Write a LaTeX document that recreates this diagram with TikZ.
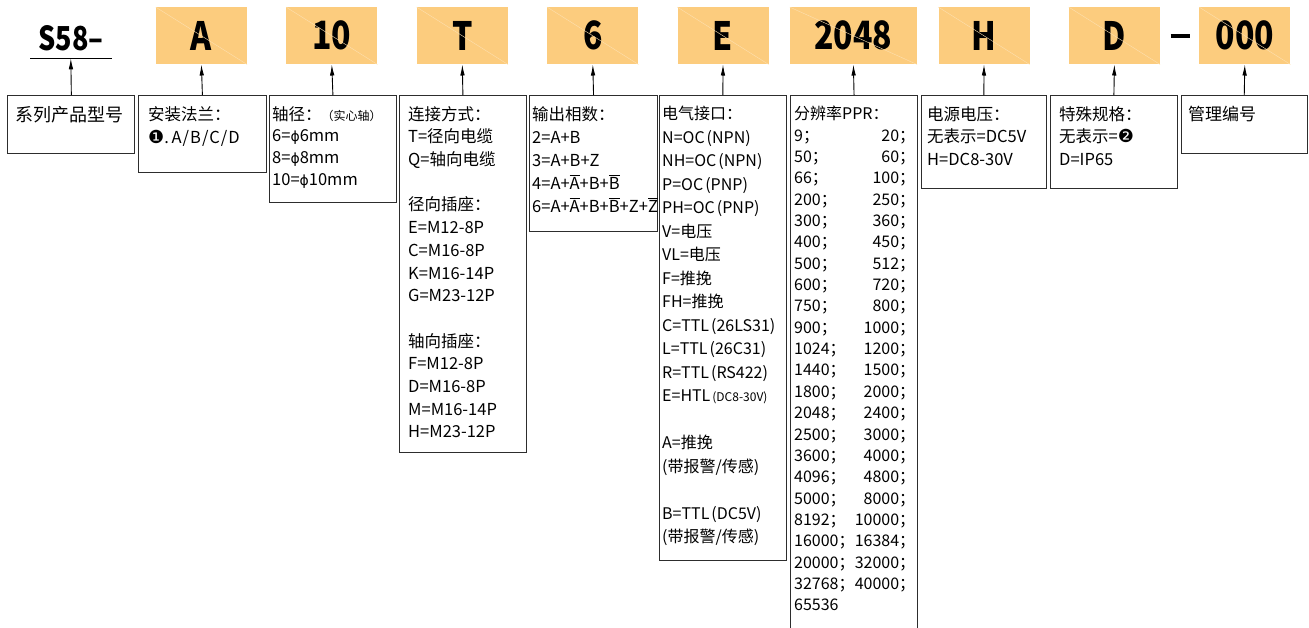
\documentclass[tikz,border=0pt]{standalone}
\usepackage{fontspec}
\setmainfont{Noto Sans CJK SC}
\newfontfamily\dvs{DejaVu Sans}
\newfontfamily\hdr{Noto Sans CJK SC}[FakeStretch=0.82]
\usetikzlibrary{arrows.meta}
\definecolor{ora}{RGB}{252,204,126}
\definecolor{oral}{RGB}{253,224,176}
\definecolor{edge}{RGB}{45,45,45}
\newcommand\ovl[1]{$\overline{\mbox{#1}}$}
\newcommand\ppr[2]{\makebox[121pt][l]{#1；\hfill #2；}}
\newcommand\phis{{\dvs\fontsize{14}{14}\selectfont ϕ}}
\newcommand\pl[1]{\hspace{2pt}(#1)}
\begin{document}
\begin{tikzpicture}[x=1pt,y=-1pt,
  obox/.style={fill=ora, minimum width=91pt, minimum height=57pt, inner sep=0,
    font=\hdr\fontsize{39}{40}\selectfont\bfseries},
  lbox/.style={draw=edge, line width=1.1pt, anchor=north west, inner sep=0},
  txt/.style={anchor=north west, inner sep=0, align=left},
  arr/.style={-{Latex[length=11pt,width=4.5pt]}, line width=0.9pt}]
\path[use as bounding box] (0,0) rectangle (1309,627);

% header
\node[inner sep=0, font=\hdr\fontsize{33}{34}\selectfont\bfseries] (s58) at (70.8,38.5) {S58–};
\draw[line width=1pt] (30,58.3) -- (111.5,58.3);
\coordinate (s58u) at (70.8,58.3);
\node[obox] (oA) at (201.4,35.8) {A};
\node[obox] (o10) at (331.8,35.8) {10};
\node[obox] (oT) at (462.3,35.8) {T};
\node[obox] (o6) at (592.8,35.8) {6};
\node[obox] (oE) at (723,35.8) {E};
\node[obox, minimum width=127pt] (o2048) at (853.4,35.8) {2048};
\node[obox] (oH) at (984,35.8) {H};
\node[obox] (oD) at (1114.4,35.8) {D};
\node[inner sep=0] (dash) at (1180,35.8) {\rule{19pt}{3.6pt}};
\node[obox] (o000) at (1244.8,35.8) {000};
\foreach \n in {oA,o10,oT,o6,oE,o2048,oH,oD,o000}
  \draw[oral, line width=0.4pt] (\n.north west) -- (\n.south east);

% lower boxes
\node[lbox, minimum width=127pt, minimum height=58pt] (b1) at (7.3,95) {};
\node[lbox, minimum width=127.7pt, minimum height=76.7pt] (b2) at (138,95) {};
\node[lbox, minimum width=127.3pt, minimum height=107.3pt] (b3) at (268.7,95) {};
\node[lbox, minimum width=126.7pt, minimum height=357.3pt] (b4) at (399,95) {};
\node[lbox, minimum width=127.4pt, minimum height=135.7pt] (b5) at (529.3,95) {};
\node[lbox, minimum width=126.7pt, minimum height=465pt] (b6) at (659,95) {};
\node[lbox, minimum width=127pt, minimum height=560pt] (b7) at (790,95) {};
\node[lbox, minimum width=124.7pt, minimum height=93.3pt] (b8) at (921,95) {};
\node[lbox, minimum width=126.7pt, minimum height=93.3pt] (b9) at (1050,95) {};
\node[lbox, minimum width=126pt, minimum height=58.3pt] (b10) at (1180.7,95) {};

% arrows
\draw[arr] (b1.north) -- (s58u);
\draw[arr] (b2.north) -- (oA.south);
\draw[arr] (b3.north) -- (o10.south);
\draw[arr] (b4.north) -- (oT.south);
\draw[arr] (b5.north) -- (o6.south);
\draw[arr] (b6.north) -- (oE.south);
\draw[arr] (b7.north) -- (o2048.south);
\draw[arr] (b8.north) -- (oH.south);
\draw[arr] (b9.north) -- (oD.south);
\draw[arr] (b10.north) -- (o000.south);

% texts
\node[txt, font=\fontsize{18}{22}\selectfont] (t1) at (15,106) {系列产品型号};
\node[txt, font=\fontsize{16.5}{23}\selectfont] (t2) at (148,106) {安装法兰：\\{\dvs\fontsize{18}{18}\selectfont ❶}.\,A\kern1pt/\kern1pt B\kern1pt/\kern1pt C\kern1pt/\kern1pt D};
\node[txt, font=\fontsize{16.5}{21.7}\selectfont] (t3) at (272,106) {轴径：{\fontsize{12}{12}\selectfont（实心轴）}\\
6=\phis 6mm\\8=\phis 8mm\\10=\phis 10mm};
\node[txt, font=\fontsize{16.5}{22.7}\selectfont] (t4) at (408,106) {连接方式：\\T=径向电缆\\Q=轴向电缆\\[22.7pt]
径向插座：\\E=M12-8P\\C=M16-8P\\K=M16-14P\\G=M23-12P\\[22.7pt]
轴向插座：\\F=M12-8P\\D=M16-8P\\M=M16-14P\\H=M23-12P};
\node[txt, font=\fontsize{16.5}{23}\selectfont] (t5) at (532,106) {输出相数：\\2=A+B\\3=A+B+Z\\
4=A+\ovl{A}+B+\ovl{B}\\6=A+\ovl{A}+B+\ovl{B}+Z+\ovl{Z}};
\node[txt, font=\fontsize{16}{23.5}\selectfont] (t6) at (662,106) {电气接口：\\N=OC\pl{NPN}\\NH=OC\pl{NPN}\\P=OC\pl{PNP}\\PH=OC\pl{PNP}\\
V=电压\\VL=电压\\F=推挽\\FH=推挽\\C=TTL\pl{26LS31}\\L=TTL\pl{26C31}\\R=TTL\pl{RS422}\\
E=HTL{\fontsize{12}{12}\selectfont\pl{DC8-30V}}\\[23.5pt]A=推挽\\(带报警/传感)\\[23.5pt]B=TTL\pl{DC5V}\\(带报警/传感)};
\node[txt, font=\fontsize{16}{21.35}\selectfont] (t7) at (794,106) {分辨率PPR：\\
\ppr{9}{20}\\\ppr{50}{60}\\\ppr{66}{100}\\\ppr{200}{250}\\\ppr{300}{360}\\\ppr{400}{450}\\
\ppr{500}{512}\\\ppr{600}{720}\\\ppr{750}{800}\\\ppr{900}{1000}\\\ppr{1024}{1200}\\
\ppr{1440}{1500}\\\ppr{1800}{2000}\\\ppr{2048}{2400}\\\ppr{2500}{3000}\\\ppr{3600}{4000}\\
\ppr{4096}{4800}\\\ppr{5000}{8000}\\\ppr{8192}{10000}\\\ppr{16000}{16384}\\
\ppr{20000}{32000}\\\ppr{32768}{40000}\\65536};
\node[txt, font=\fontsize{16.5}{22.5}\selectfont] (t8) at (927,106) {电源电压：\\无表示=DC5V\\H=DC8-30V};
\node[txt, font=\fontsize{16.5}{22.5}\selectfont] (t9) at (1059,106) {特殊规格：\\无表示={\dvs\fontsize{18}{18}\selectfont ❷}\\D=IP65};
\node[txt, font=\fontsize{17}{22}\selectfont] (t10) at (1188,106) {管理编号};
\end{tikzpicture}
\end{document}
